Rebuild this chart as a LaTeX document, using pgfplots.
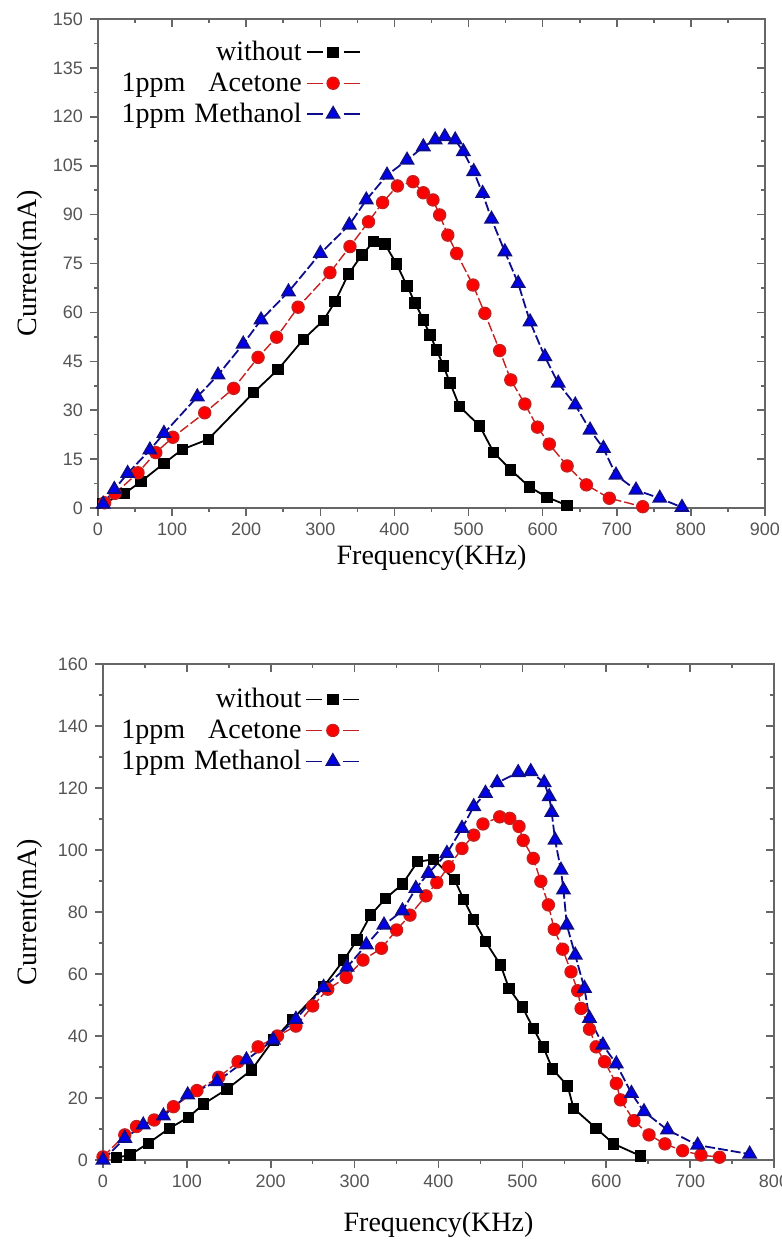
\documentclass[border=0pt]{standalone}
\usepackage{pgfplots}
\pgfplotsset{compat=1.18}
\usepackage{fontspec}
\setmainfont{Liberation Serif}
\newfontfamily\tickfont{Liberation Sans}
\definecolor{tickgray}{rgb}{0.33,0.33,0.33}
\definecolor{axgray}{rgb}{0.40,0.40,0.40}
\definecolor{redline}{rgb}{0.78,0.12,0.12}
\definecolor{redfill}{rgb}{1.0,0.0,0.0}
\definecolor{blueline}{rgb}{0.05,0.05,0.55}
\definecolor{bluefill}{rgb}{0.0,0.0,0.95}
\pgfplotsset{
  base/.style={
    scale only axis, clip=false,
    axis line style={axgray, line width=0.9pt},
    every tick/.style={axgray, line width=0.8pt},
    major tick length=4pt, minor tick length=2pt,
    minor x tick num=1, minor y tick num=1,
    tick label style={font=\tickfont\fontsize{9}{10}\selectfont, text=tickgray},
    /pgf/number format/assume math mode=true,
    label style={font=\fontsize{14}{16}\selectfont},
    xlabel={Frequency(KHz)}, ylabel={Current(mA)},
    legend plot pos=right,
    legend cell align=right,
    legend style={draw=none, fill=none, font=\fontsize{14}{15}\selectfont,
      anchor=north west, row sep=0.5pt},
    legend image code/.code={
      \draw[solid] (4pt,0pt)--(12pt,0pt) (22.5pt,0pt)--(30.5pt,0pt);
      \draw plot[only marks] coordinates {(17.25pt,0pt)};
    },
  },
  mainax/.style={base, xtick pos=left, ytick pos=left, tick align=outside},
  mirrorax/.style={base, xtick pos=right, ytick pos=right, tick align=inside,
    xticklabels={}, yticklabels={}, xlabel={}, ylabel={}, axis line style={draw=none}},
  sblack/.style={color=black, line width=0.9pt, mark=square*, mark size=2.4pt,
    mark options={solid, fill=black}},
  sred/.style={color=redline, line width=0.7pt, dash pattern=on 5pt off 1.5pt,
    mark=*, mark size=3pt, mark options={solid, fill=redfill, draw=redline}},
  sblue/.style={color=blueline, line width=0.9pt, dash pattern=on 5pt off 1.5pt,
    mark=triangle*, mark size=3.6pt, mark options={solid, fill=bluefill, draw=blueline}},
}
\begin{document}
\begin{tikzpicture}
\useasboundingbox (-49pt,-367.5pt) rectangle (342pt,254pt);
% ---------------- top chart ----------------
\begin{axis}[mainax, at={(0pt,0pt)}, anchor=south west,
  width=333.5pt, height=244.5pt,
  xmin=0, xmax=900, ymin=0, ymax=150,
  xtick={0,100,...,900}, ytick={0,15,...,150},
  xlabel style={at={(axis description cs:0.5,-0.102)}, anchor=center},
  ylabel style={at={(axis description cs:-0.102,0.5)}, anchor=center},
  legend style={at={(axis description cs:0.02,0.972)}},
]
\addplot[sblack] coordinates {
(7,1.4) (36,4.5) (58,8.1) (89,13.7) (114,18.0) (149,21.1) (210,35.4) (243,42.5)
(277,51.7) (304,57.5) (320,63.3) (338,71.8) (356,77.6) (372,81.7) (387,81.0)
(403,74.8) (417,68.1) (428,62.9) (439,57.7) (448,53.1) (457,48.5) (466,43.6)
(475,38.4) (488,31.1) (515,25.2) (534,17.0) (557,11.7) (582,6.5) (606,3.3) (633,0.8)
};
\addlegendentry{\makebox[90pt][r]{without}}
\addplot[sred] coordinates {
(9,1.6) (23,4.5) (54,10.8) (78,17.0) (101,21.7) (144,29.2) (183,36.7) (216,46.2)
(241,52.4) (270,61.6) (313,72.2) (340,80.2) (365,87.8) (384,93.7) (404,98.8)
(425,100.1) (439,96.7) (452,94.5) (461,89.9) (472,83.7) (484,78.1) (506,68.4)
(522,59.7) (542,48.3) (557,39.3) (576,31.9) (593,24.8) (609,19.6) (633,12.9)
(659,7.1) (690,3.0) (735,0.4)
};
\addlegendentry{\makebox[90pt][s]{1ppm\hfill Acetone}}
\addplot[sblue] coordinates {
(7,1.2) (22,5.7) (40,10.6) (70,17.8) (89,22.9) (134,34.1) (162,40.8) (196,50.3)
(220,57.7) (257,66.3) (300,78.1) (339,86.8) (362,94.5) (390,102.1) (417,106.7)
(439,110.8) (455,112.9) (468,113.9) (482,112.9) (493,109.3) (507,103.2) (519,96.5)
(531,88.6) (549,78.6) (567,68.9) (583,57.1) (603,46.4) (621,38.3) (644,31.6)
(664,23.9) (682,18.3) (699,10.1) (726,5.5) (758,3.0) (788,0.2)
};
\addlegendentry{\makebox[90pt][s]{1ppm\hfill Methanol}}
\end{axis}
\begin{axis}[mirrorax, at={(0pt,0pt)}, anchor=south west,
  width=333.5pt, height=244.5pt,
  xmin=0, xmax=900, ymin=0, ymax=150,
  xtick={0,100,...,900}, ytick={0,15,...,150}]
\end{axis}
% ---------------- bottom chart ----------------
\begin{axis}[mainax, at={(2.5pt,-326pt)}, anchor=south west,
  width=335.5pt, height=248pt,
  xmin=0, xmax=800, ymin=0, ymax=160,
  xtick={0,100,...,800}, ytick={0,20,...,160},
  xlabel style={at={(axis description cs:0.5,-0.13)}, anchor=center},
  ylabel style={at={(axis description cs:-0.109,0.5)}, anchor=center},
  legend style={at={(axis description cs:0.012,0.968)}},
]
\addplot[sblack] coordinates {
(16,0.8) (32,1.6) (54,5.4) (79,10.2) (102,13.8) (120,18.1) (148,22.9) (177,29.0)
(203,38.7) (226,45.4) (263,55.9) (287,64.5) (303,71.0) (319,79.0) (337,84.4)
(357,89.0) (375,96.2) (394,97.0) (419,90.5) (430,84.1) (442,77.5) (456,70.5)
(474,62.9) (484,55.4) (500,49.3) (513,42.5) (525,36.4) (536,29.3) (554,23.9)
(561,16.7) (588,10.2) (609,5.2) (641,1.3)
};
\addlegendentry{\makebox[90pt][r]{without}}
\addplot[sred] coordinates {
(0,1) (26,8.1) (40,10.8) (61,12.9) (84,17.2) (112,22.4) (138,26.7) (161,31.7)
(185,36.5) (208,40.0) (230,43.2) (250,49.7) (268,55.1) (290,58.9) (310,64.5)
(332,68.3) (350,74.2) (366,79.0) (385,85.2) (398,89.5) (412,94.6) (428,100.5)
(442,104.8) (453,108.4) (473,110.7) (485,110.2) (496,107.6) (501,103.1) (513,97.3)
(522,89.9) (531,82.3) (538,74.4) (548,68.0) (558,60.7) (566,54.6) (570,48.9)
(580,42.2) (588,36.5) (598,31.7) (612,24.7) (617,19.4) (633,12.7) (651,8.1)
(670,5.2) (691,3.0) (713,1.6) (735,0.9)
};
\addlegendentry{\makebox[90pt][s]{1ppm\hfill Acetone}}
\addplot[sblue] coordinates {
(0,0) (26,7.0) (48,11.3) (72,14.2) (101,21.0) (136,25.3) (171,32.3) (203,38.7)
(230,45.4) (263,55.7) (291,62.2) (314,69.4) (335,75.8) (357,80.4) (373,87.6)
(388,92.5) (410,98.9) (428,107) (442,114) (456,118.3) (470,121.7) (495,125)
(510,125.3) (526,121.7) (532,117.2) (535,112.1) (539,103.2) (546,93.5) (549,87.1)
(553,75.8) (563,66.1) (574,55.4) (580,45.7) (596,37.1) (612,31.0) (630,21.5)
(645,15.6) (673,9.7) (709,4.8) (771,1.9)
};
\addlegendentry{\makebox[90pt][s]{1ppm\hfill Methanol}}
\end{axis}
\begin{axis}[mirrorax, at={(2.5pt,-326pt)}, anchor=south west,
  width=335.5pt, height=248pt,
  xmin=0, xmax=800, ymin=0, ymax=160,
  xtick={0,100,...,800}, ytick={0,20,...,160}]
\end{axis}
\end{tikzpicture}
\end{document}
